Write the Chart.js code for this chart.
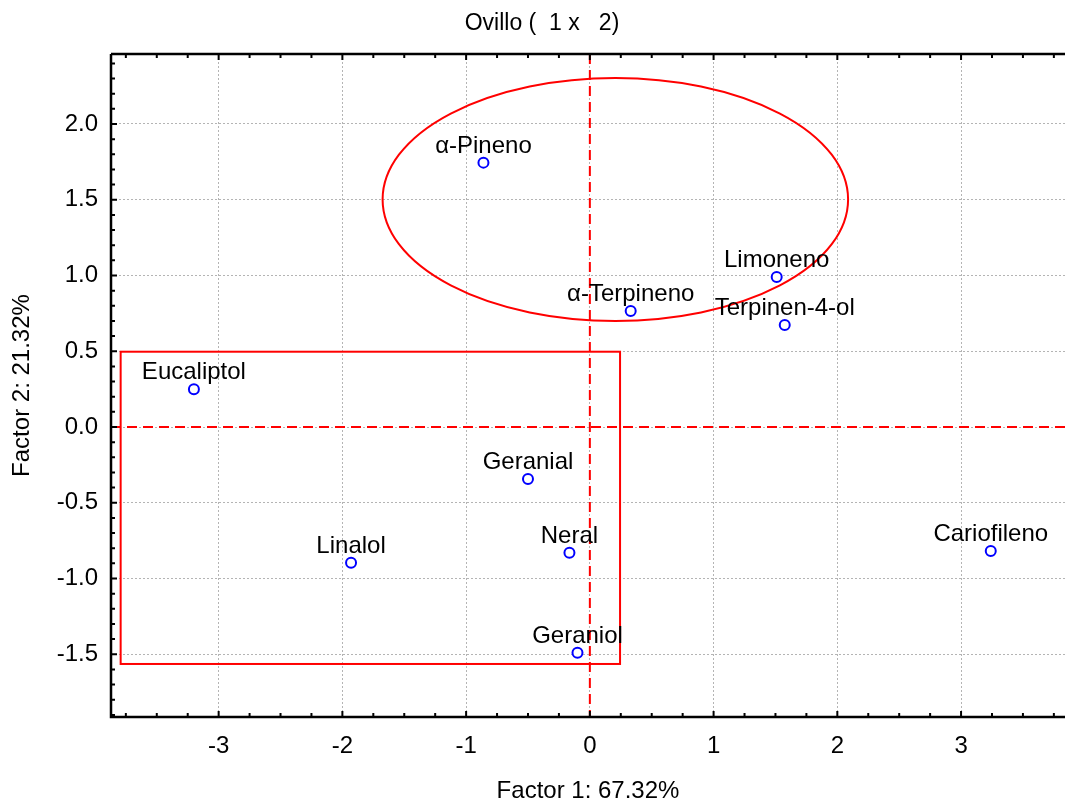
<!DOCTYPE html>
<html>
<head>
<meta charset="utf-8">
<script src="https://cdn.jsdelivr.net/npm/chart.js@4/dist/chart.umd.min.js"></script>
<style>
  body { margin: 0; background: #fff; }
  canvas { display: block; }
</style>
</head>
<body>
<canvas id="myChart" width="1065" height="800"></canvas>
<script>
// values (factor scores)
const names = ['α-Pineno', 'Limoneno', 'α-Terpineno', 'Terpinen-4-ol', 'Eucaliptol',
               'Geranial', 'Neral', 'Linalol', 'Geraniol', 'Cariofileno'];
const factor1 = [-0.86, 1.51, 0.33, 1.575, -3.20, -0.50, -0.165, -1.93, -0.10, 3.24];
const factor2 = [1.745, 0.99, 0.766, 0.673, 0.25, -0.343, -0.83, -0.896, -1.49, -0.818];

const xTicks = [-3, -2, -1, 0, 1, 2, 3];
const yTicks = [-1.5, -1.0, -0.5, 0.0, 0.5, 1.0, 1.5, 2.0];

// group marks: ellipse [cx, cy, rx, ry] and box [x0, y0, x1, y1]
const ellipseGroup = [0.206, 1.502, 1.881, 0.802];
const boxGroup = [-3.792, 0.497, 0.244, -1.564];

const chartTitle = 'Ovillo (  1 x   2)';
const FONT = 'Liberation Sans, Arial, sans-serif';

const points = factor1.map((x, i) => ({x: x, y: factor2[i]}));

const overlay = {
    id: 'overlay',
    beforeDatasetsDraw: (chart) => {
        const {ctx, chartArea} = chart;
        const xs = chart.scales.x, ys = chart.scales.y;
        ctx.save();
        ctx.strokeStyle = '#ff0000';
        ctx.lineWidth = 2;

        // zero lines
        ctx.setLineDash([10, 6]);
        ctx.beginPath();
        const x0 = xs.getPixelForValue(0), y0 = ys.getPixelForValue(0);
        ctx.moveTo(x0, chartArea.top); ctx.lineTo(x0, chartArea.bottom);
        ctx.moveTo(chartArea.left, y0); ctx.lineTo(chartArea.right, y0);
        ctx.stroke();
        ctx.setLineDash([]);

        // ellipse
        const cx = xs.getPixelForValue(ellipseGroup[0]);
        const cy = ys.getPixelForValue(ellipseGroup[1]);
        const rx = Math.abs(xs.getPixelForValue(ellipseGroup[0] + ellipseGroup[2]) - cx);
        const ry = Math.abs(ys.getPixelForValue(ellipseGroup[1] + ellipseGroup[3]) - cy);
        ctx.beginPath();
        ctx.ellipse(cx, cy, rx, ry, 0, 0, Math.PI * 2);
        ctx.stroke();

        // box
        const bx0 = xs.getPixelForValue(boxGroup[0]), by0 = ys.getPixelForValue(boxGroup[1]);
        const bx1 = xs.getPixelForValue(boxGroup[2]), by1 = ys.getPixelForValue(boxGroup[3]);
        ctx.strokeRect(bx0, by0, bx1 - bx0, by1 - by0);
        ctx.restore();
    },
    afterDatasetsDraw: (chart) => {
        const {ctx, chartArea} = chart;
        const xs = chart.scales.x, ys = chart.scales.y;
        ctx.save();

        // title (sits a bit right of the canvas centre in the original)
        ctx.fillStyle = '#000';
        ctx.font = '23px ' + FONT;
        ctx.textAlign = 'center';
        ctx.textBaseline = 'middle';
        ctx.fillText(chartTitle, 542, 24);

        // point labels
        ctx.font = '24px ' + FONT;
        ctx.textBaseline = 'alphabetic';
        names.forEach((n, i) => {
            ctx.fillText(n, xs.getPixelForValue(factor1[i]), ys.getPixelForValue(factor2[i]) - 10);
        });

        // axis frame (left, bottom, top)
        ctx.strokeStyle = '#000';
        ctx.lineWidth = 2.5;
        ctx.beginPath();
        ctx.moveTo(chartArea.left, chartArea.top);
        ctx.lineTo(chartArea.left, chartArea.bottom);
        ctx.lineTo(chartArea.right, chartArea.bottom);
        ctx.moveTo(chartArea.left, chartArea.top);
        ctx.lineTo(chartArea.right, chartArea.top);
        ctx.stroke();

        // inward tick marks, minor every 0.25 on x and 0.1 on y
        ctx.lineWidth = 2;
        ctx.beginPath();
        for (let k = Math.ceil(xs.min / 0.25); k * 0.25 <= xs.max; k++) {
            const px = xs.getPixelForValue(k * 0.25);
            const len = (k % 4 === 0) ? 6 : 4;
            ctx.moveTo(px, chartArea.bottom); ctx.lineTo(px, chartArea.bottom - len);
            ctx.moveTo(px, chartArea.top); ctx.lineTo(px, chartArea.top + len);
        }
        for (let k = Math.ceil(ys.min * 10); k / 10 <= ys.max; k++) {
            const py = ys.getPixelForValue(k / 10);
            const len = (k % 5 === 0) ? 6 : 4;
            ctx.moveTo(chartArea.left, py); ctx.lineTo(chartArea.left + len, py);
        }
        ctx.stroke();
        ctx.restore();
    }
};

const config = {
    type: 'scatter',
    data: {
        datasets: [{
            label: 'Variables',
            data: points,
            pointRadius: 5,
            pointHoverRadius: 5,
            borderWidth: 2,
            borderColor: '#0000ff',
            backgroundColor: '#ffffff'
        }]
    },
    options: {
        responsive: false,
        animation: false,
        layout: {padding: {top: 54, left: 0, right: 0, bottom: 0}, autoPadding: false},
        plugins: {
            legend: {display: false},
            tooltip: {enabled: false},
            title: {display: false}
        },
        scales: {
            x: {
                type: 'linear',
                min: -3.87,
                max: 3.84,
                afterBuildTicks: (s) => { s.ticks = xTicks.map(v => ({value: v})); },
                afterFit: (s) => { s.height = 83; },
                ticks: {
                    color: '#000',
                    font: {family: FONT, size: 24},
                    padding: 14.6,
                    callback: (v) => String(v)
                },
                grid: {color: '#b4b4b4', lineWidth: 1, drawTicks: false},
                border: {display: false, dash: [2, 2]},
                title: {
                    display: true,
                    text: 'Factor 1: 67.32%',
                    color: '#000',
                    font: {family: FONT, size: 24, lineHeight: 0.75},
                    padding: 0
                }
            },
            y: {
                type: 'linear',
                min: -1.914,
                max: 2.462,
                afterBuildTicks: (s) => { s.ticks = yTicks.map(v => ({value: v})); },
                afterFit: (s) => { s.width = 111; },
                ticks: {
                    color: '#000',
                    font: {family: FONT, size: 24},
                    padding: 13,
                    callback: (v) => Number(v).toFixed(1)
                },
                grid: {color: '#b4b4b4', lineWidth: 1, drawTicks: false},
                border: {display: false, dash: [2, 2]},
                title: {
                    display: true,
                    text: 'Factor 2: 21.32%',
                    color: '#000',
                    font: {family: FONT, size: 24, lineHeight: 1.2},
                    padding: {top: 7.6, bottom: 0}
                }
            }
        }
    },
    plugins: [overlay]
};

const myChart = new Chart(document.getElementById('myChart'), config);
</script>
</body>
</html>
